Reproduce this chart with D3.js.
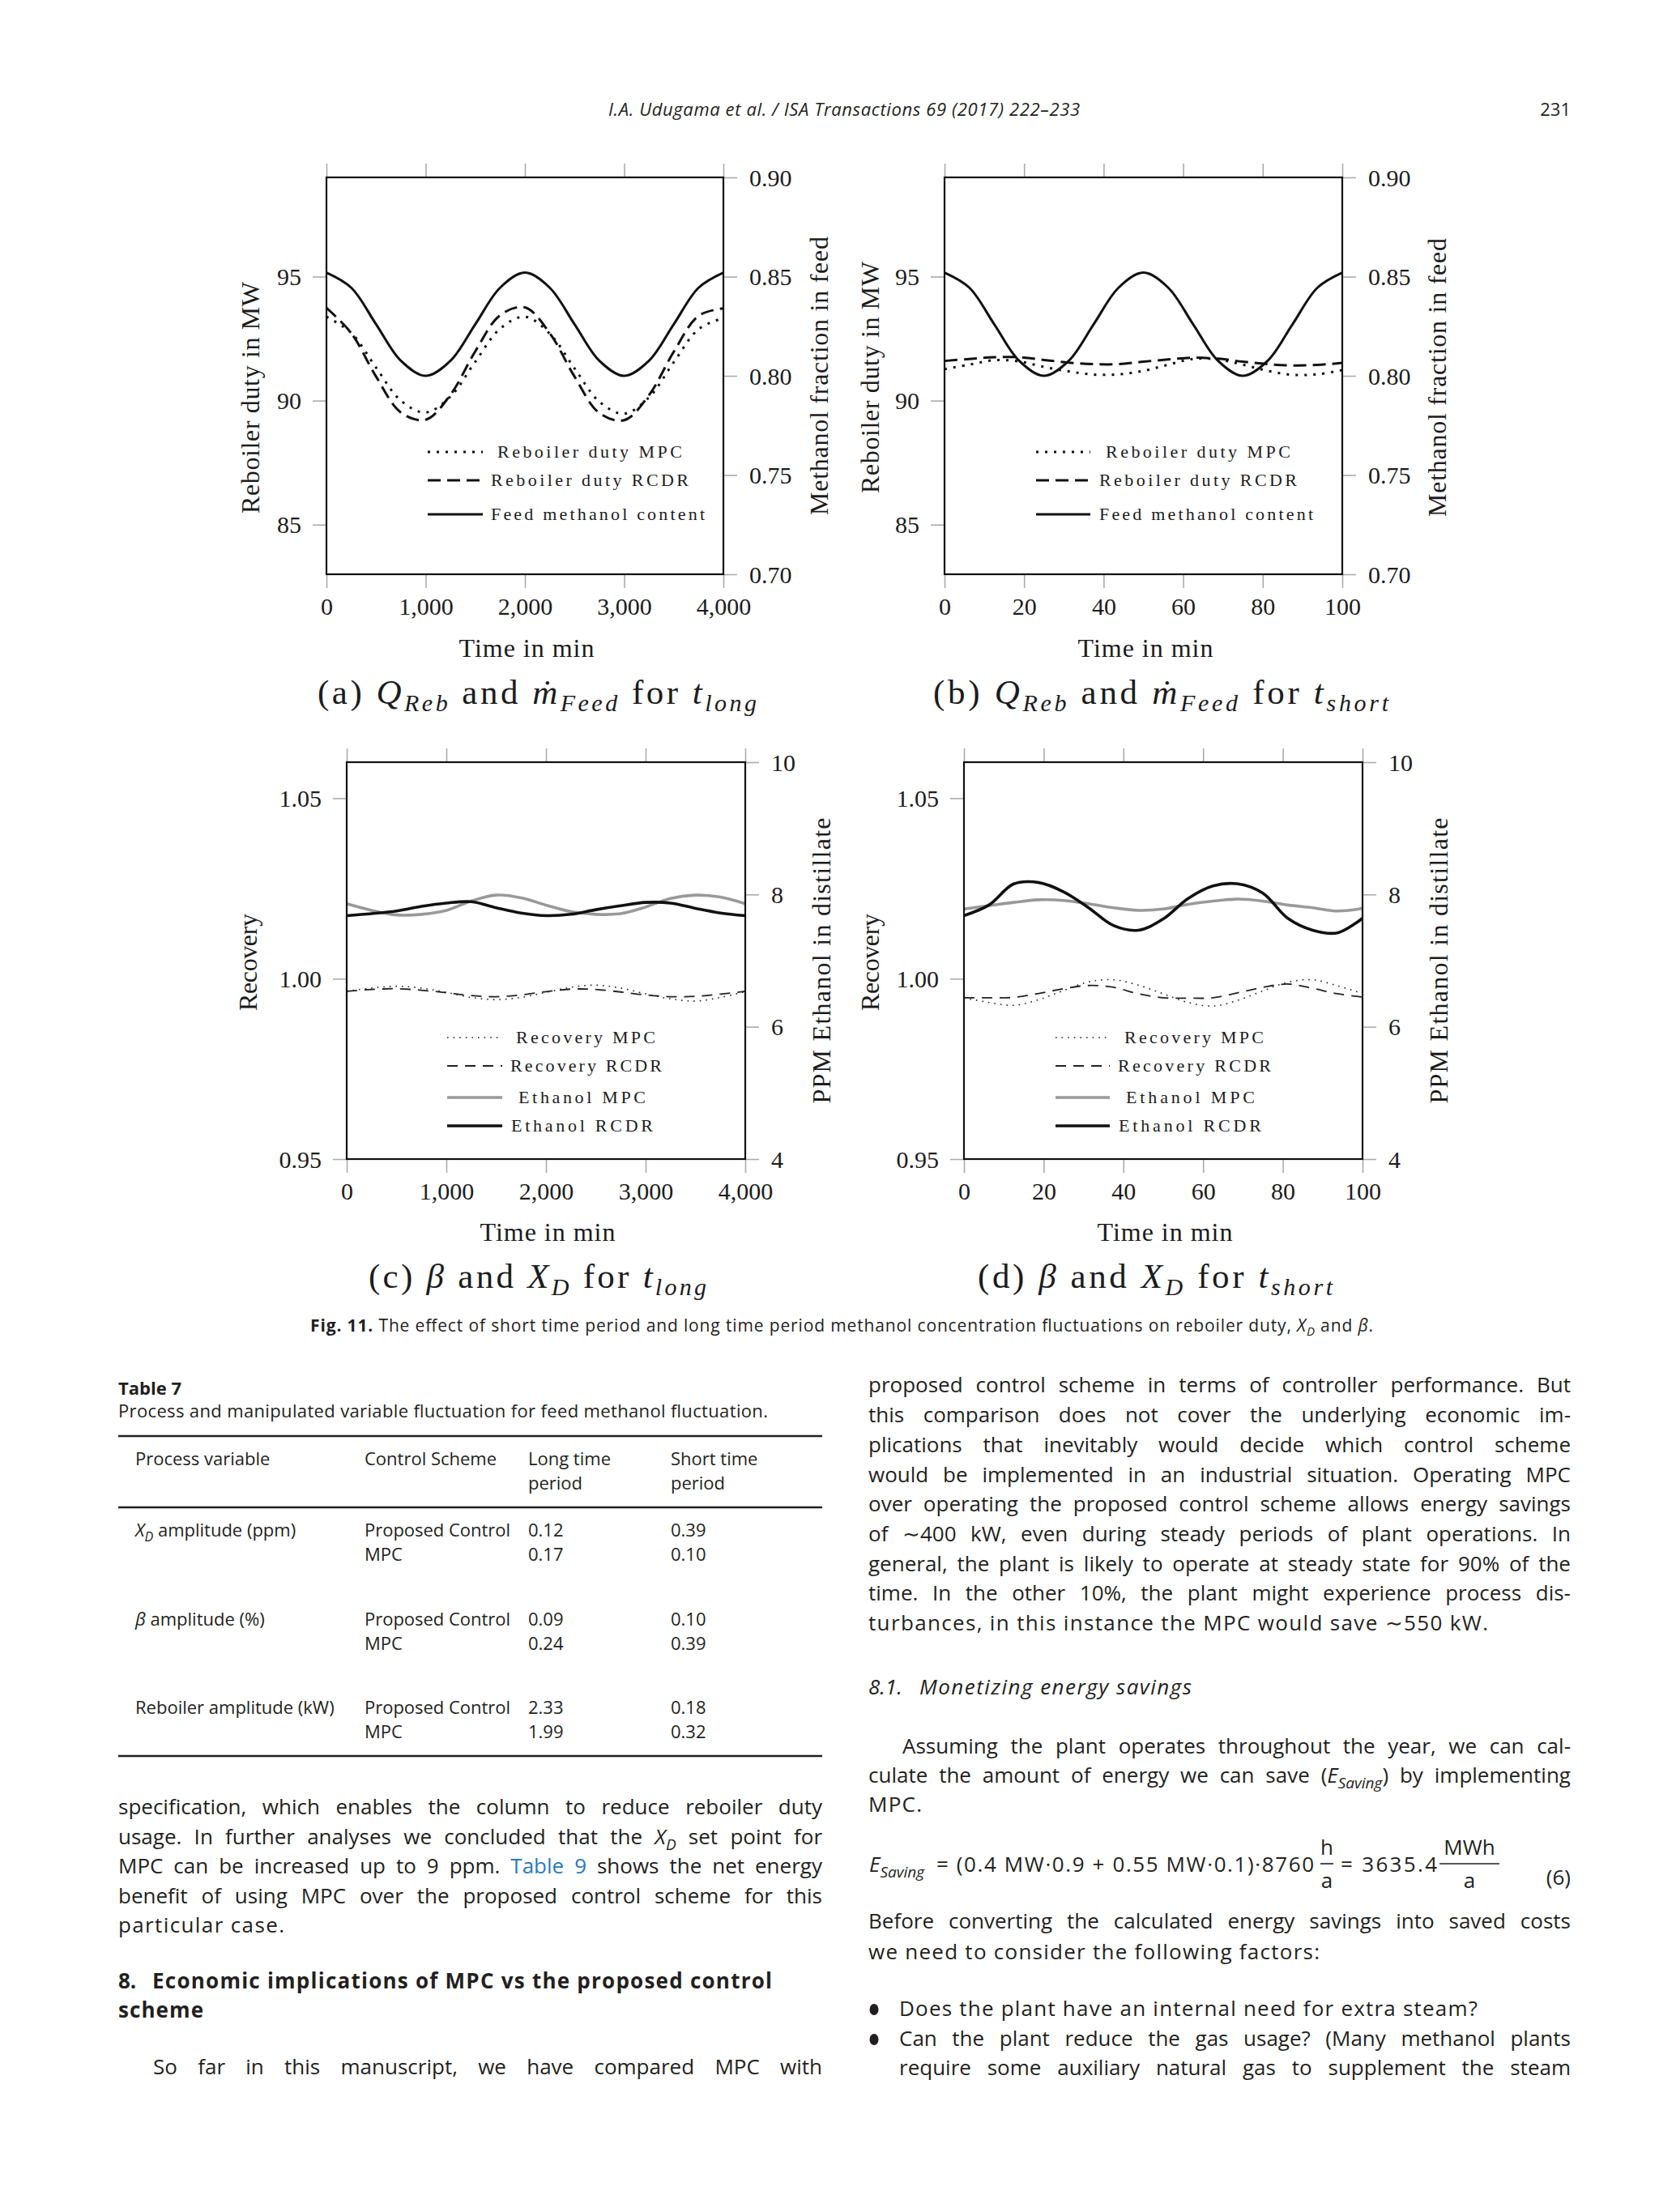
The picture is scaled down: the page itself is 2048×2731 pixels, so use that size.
<!DOCTYPE html>
<html>
<head>
<meta charset="utf-8">
<script src="https://cdn.jsdelivr.net/npm/d3@7"></script>
<style>
  body { margin: 0; background: #fff; }
</style>
</head>
<body>
<div id="page"></div>
<script>
// ---- values ----
const timeLong = [0, 250, 500, 750, 1000, 1250, 1500, 1750, 2000, 2250, 2500, 2750, 3000, 3250, 3500, 3750, 4000];
const timeShort = [0, 6.25, 12.5, 18.75, 25, 31.25, 37.5, 43.75, 50, 56.25, 62.5, 68.75, 75, 81.25, 87.5, 93.75, 100];

// (a) long period: reboiler duty (MW) and feed methanol fraction
const rebMpcLong = [93.38, 92.73, 91.33, 90.00, 89.52, 90.17, 91.57, 92.90, 93.38, 92.70, 91.30, 89.96, 89.47, 90.13, 91.55, 92.88, 93.33];
const rebRcdrLong = [93.74, 92.72, 90.97, 89.52, 89.23, 90.24, 91.99, 93.44, 93.76, 92.72, 90.97, 89.50, 89.21, 90.22, 91.97, 93.42, 93.72];
const feedLong = [0.852, 0.8444, 0.826, 0.8076, 0.800, 0.8076, 0.826, 0.8444, 0.852, 0.8444, 0.826, 0.8076, 0.800, 0.8076, 0.826, 0.8444, 0.852];

// (b) short period
const rebMpcShort = [91.27, 91.45, 91.63, 91.58, 91.36, 91.18, 91.05, 91.06, 91.20, 91.45, 91.68, 91.66, 91.45, 91.20, 91.04, 91.06, 91.23];
const rebRcdrShort = [91.60, 91.68, 91.75, 91.75, 91.64, 91.53, 91.47, 91.47, 91.57, 91.66, 91.73, 91.69, 91.57, 91.47, 91.42, 91.44, 91.52];
const feedShort = [0.852, 0.8444, 0.826, 0.8076, 0.800, 0.8076, 0.826, 0.8444, 0.852, 0.8444, 0.826, 0.8076, 0.800, 0.8076, 0.826, 0.8444, 0.852];

// (c) long period: recovery and ppm ethanol in distillate
const recMpcLong = [0.9965, 0.9974, 0.9979, 0.9974, 0.9962, 0.9948, 0.9942, 0.9948, 0.9962, 0.9976, 0.9982, 0.9974, 0.9958, 0.9944, 0.9938, 0.9948, 0.9964];
const recRcdrLong = [0.9965, 0.9970, 0.9972, 0.9968, 0.9961, 0.9953, 0.9950, 0.9955, 0.9964, 0.9971, 0.9970, 0.9963, 0.9955, 0.9950, 0.9951, 0.9957, 0.9965];
const ethMpcLong = [7.86, 7.76, 7.69, 7.70, 7.76, 7.90, 7.99, 7.95, 7.84, 7.74, 7.70, 7.71, 7.81, 7.94, 7.99, 7.96, 7.86];
const ethRcdrLong = [7.68, 7.71, 7.75, 7.82, 7.87, 7.89, 7.80, 7.72, 7.68, 7.70, 7.77, 7.83, 7.88, 7.87, 7.79, 7.72, 7.68];

// (d) short period
const recMpcShort = [0.9947, 0.9934, 0.9926, 0.9942, 0.9967, 0.9991, 0.9997, 0.9982, 0.9958, 0.9934, 0.9924, 0.9940, 0.9966, 0.9990, 0.9997, 0.9980, 0.9959];
const recRcdrShort = [0.9947, 0.9947, 0.9948, 0.9959, 0.9972, 0.9981, 0.9976, 0.9958, 0.9947, 0.9946, 0.9947, 0.9961, 0.9976, 0.9985, 0.9973, 0.9958, 0.9949];
const ethMpcShort = [7.78, 7.83, 7.88, 7.92, 7.91, 7.86, 7.80, 7.76, 7.78, 7.85, 7.90, 7.93, 7.90, 7.84, 7.80, 7.75, 7.79];
const ethRcdrShort = [7.68, 7.84, 8.16, 8.18, 8.04, 7.80, 7.53, 7.46, 7.63, 7.94, 8.13, 8.16, 8.02, 7.64, 7.46, 7.42, 7.64];

// tick values
const xTicksLong = [0, 1000, 2000, 3000, 4000];
const xTicksShort = [0, 20, 40, 60, 80, 100];
const dutyTicks = [85, 90, 95];
const fracTicks = [0.70, 0.75, 0.80, 0.85, 0.90];
const recTicks = [0.95, 1.00, 1.05];
const ppmTicks = [4, 6, 8, 10];

// Table 7
const tableVars = [
  [{ t: 'X', i: 1 }, { t: 'D', i: 1, sub: 1 }, { t: ' amplitude (ppm)' }],
  [{ t: 'β', i: 1 }, { t: ' amplitude (%)' }],
  [{ t: 'Reboiler amplitude (kW)' }],
];
const tableSchemes = ['Proposed Control', 'MPC'];
const longAmp = [[0.12, 0.17], [0.09, 0.24], [2.33, 1.99]];
const shortAmp = [[0.39, 0.10], [0.10, 0.39], [0.18, 0.32]];

// ---- page ----
const W = 2048, H = 2731;
const CM = '"Liberation Serif", "DejaVu Serif", serif';
const SANS = '"Open Sans", "Noto Sans", sans-serif';
const INK = '#231f20';

const svg = d3.select('#page').append('svg')
  .attr('width', W).attr('height', H).attr('viewBox', `0 0 ${W} ${H}`);
svg.append('rect').attr('width', W).attr('height', H).attr('fill', '#fff');

const styles = {
  dotted: { stroke: '#111', width: 3, dash: '3,8' },
  dashed: { stroke: '#111', width: 3, dash: '16,8' },
  solid: { stroke: '#111', width: 3, dash: null },
  dotThin: { stroke: '#222', width: 1.6, dash: '1.6,6' },
  dashThin: { stroke: '#222', width: 1.8, dash: '13,9' },
  gray: { stroke: '#999', width: 3.6, dash: null },
  black: { stroke: '#111', width: 3.6, dash: null },
};

function applyStroke(sel, st) {
  sel.attr('fill', 'none').attr('stroke', st.stroke).attr('stroke-width', st.width)
    .attr('stroke-dasharray', st.dash).attr('stroke-linejoin', 'round');
  return sel;
}

// text with italic / subscript / bold / coloured pieces
function rich(sel, parts, size, subSize, shift) {
  let cur = 0;
  (typeof parts === 'string' ? [{ t: parts }] : parts).forEach(p => {
    const ts = sel.append('tspan').text(p.t);
    const want = p.sub ? shift : 0;
    if (want !== cur) { ts.attr('dy', want - cur); cur = want; }
    if (p.sub) ts.style('font-size', subSize + 'px');
    if (p.i) ts.style('font-style', 'italic');
    if (p.b) ts.style('font-weight', 'bold');
    if (p.c) ts.attr('fill', p.c);
  });
  return sel;
}

// o.w: target width; o.just: stretch word gaps (justified body line)
function textLine(o) {
  const t = svg.append('text')
    .attr('x', o.x).attr('y', o.y)
    .attr('fill', o.fill || INK)
    .style('font-family', o.font || SANS)
    .style('font-size', o.size + 'px');
  if (o.anchor) t.attr('text-anchor', o.anchor);
  if (o.italic) t.style('font-style', 'italic');
  if (o.bold) t.style('font-weight', 'bold');
  rich(t, o.parts, o.size, Math.round(o.size * 0.72), Math.round(o.size * 0.25));
  if (o.w) {
    const natural = t.node().getComputedTextLength();
    const gaps = (t.text().match(/ /g) || []).length;
    if (o.just && natural < o.w && gaps > 0) {
      t.style('word-spacing', ((o.w - natural) / gaps).toFixed(2) + 'px');
    } else {
      t.attr('textLength', o.w).attr('lengthAdjust', 'spacing');
    }
  }
  return t;
}

function drawPanel(p) {
  const g = svg.append('g').attr('class', 'panel');
  const b = p.box;
  const bottom = b.y + b.h, right = b.x + b.w;
  const x = d3.scaleLinear().domain(p.xDomain).range([b.x, right]);
  const yL = d3.scaleLinear().domain(p.yLDomain).range([bottom, b.y]);
  const yR = d3.scaleLinear().domain(p.yRDomain).range([bottom, b.y]);

  const styleAxis = sel => {
    sel.select('.domain').remove();
    sel.selectAll('.tick line').attr('stroke', '#ababab').attr('stroke-width', 1.6);
    sel.selectAll('.tick text').attr('fill', '#1c1c1c')
      .style('font-family', CM).style('font-size', '30px');
  };

  g.append('g').attr('transform', `translate(0,${bottom})`)
    .call(d3.axisBottom(x).tickValues(p.xTicks).tickFormat(p.xFormat).tickSizeInner(17).tickSizeOuter(0))
    .call(styleAxis)
    .selectAll('.tick text').attr('y', 50).attr('dy', null);
  g.append('g').attr('transform', `translate(0,${b.y})`)
    .call(d3.axisTop(x).tickValues(p.xTicks).tickFormat('').tickSizeInner(17).tickSizeOuter(0))
    .call(styleAxis);
  g.append('g').attr('transform', `translate(${b.x},0)`)
    .call(d3.axisLeft(yL).tickValues(p.yLTicks).tickFormat(p.yLFormat).tickSizeInner(17).tickSizeOuter(0).tickPadding(14))
    .call(styleAxis)
    .selectAll('.tick text').attr('dy', '0.34em');
  g.append('g').attr('transform', `translate(${right},0)`)
    .call(d3.axisRight(yR).tickValues(p.yRTicks).tickFormat(p.yRFormat).tickSizeInner(17).tickSizeOuter(0).tickPadding(15))
    .call(styleAxis)
    .selectAll('.tick text').attr('dy', '0.34em');

  // curves
  p.series.forEach(s => {
    const y = s.axis === 'R' ? yR : yL;
    const line = d3.line()
      .x((d, i) => x(s.t[i]))
      .y(d => y(d))
      .curve(d3.curveCatmullRom.alpha(0.5));
    applyStroke(g.append('path').datum(s.v).attr('d', line), styles[s.style]);
  });

  g.append('rect').attr('x', b.x).attr('y', b.y).attr('width', b.w).attr('height', b.h)
    .attr('fill', 'none').attr('stroke', '#111').attr('stroke-width', 2.2);

  // legend
  p.legend.forEach(e => {
    applyStroke(g.append('line')
      .attr('x1', p.legendX[0]).attr('x2', p.legendX[1])
      .attr('y1', e.y).attr('y2', e.y), styles[e.style]);
    g.append('text').attr('x', e.tx).attr('y', e.y + 7)
      .attr('fill', '#1c1c1c')
      .style('font-family', CM).style('font-size', '22px')
      .attr('textLength', e.len).attr('lengthAdjust', 'spacing')
      .text(e.label);
  });

  // axis titles
  const rot = (lab) => g.append('text')
    .attr('transform', `translate(${lab.cx + 10},${lab.cy}) rotate(-90)`)
    .attr('text-anchor', 'middle').attr('fill', '#1c1c1c')
    .style('font-family', CM).style('font-size', '32px')
    .attr('textLength', lab.len).attr('lengthAdjust', 'spacing')
    .text(lab.text);
  rot(p.leftLabel);
  rot(p.rightLabel);
  g.append('text').attr('x', p.bottomLabel.cx).attr('y', p.bottomLabel.y)
    .attr('text-anchor', 'middle').attr('fill', '#1c1c1c')
    .style('font-family', CM).style('font-size', '32px')
    .attr('textLength', 167).attr('lengthAdjust', 'spacing')
    .text('Time in min');

  // sub-caption
  const cap = g.append('text').attr('x', p.caption.x).attr('y', p.caption.y)
    .attr('fill', '#1c1c1c').style('font-family', CM).style('font-size', '43px');
  rich(cap, p.caption.parts, 43, 30, 9);
  cap.attr('textLength', p.caption.len).attr('lengthAdjust', 'spacing');
}

const fmtComma = d3.format(',');
const fmtInt = d3.format('d');
const fmt2 = d3.format('.2f');

drawPanel({
  box: { x: 403, y: 219, w: 490, h: 490 },
  xDomain: [0, 4000], xTicks: xTicksLong, xFormat: fmtComma,
  yLDomain: [83, 99], yLTicks: dutyTicks, yLFormat: fmtInt,
  yRDomain: [0.70, 0.90], yRTicks: fracTicks, yRFormat: fmt2,
  series: [
    { t: timeLong, v: rebMpcLong, axis: 'L', style: 'dotted' },
    { t: timeLong, v: rebRcdrLong, axis: 'L', style: 'dashed' },
    { t: timeLong, v: feedLong, axis: 'R', style: 'solid' },
  ],
  legendX: [528, 596],
  legend: [
    { label: 'Reboiler duty MPC', style: 'dotted', y: 558, tx: 614, len: 228 },
    { label: 'Reboiler duty RCDR', style: 'dashed', y: 593, tx: 606, len: 244 },
    { label: 'Feed methanol content', style: 'solid', y: 635, tx: 606, len: 264 },
  ],
  leftLabel: { text: 'Reboiler duty in MW', cx: 310, cy: 491, len: 286 },
  rightLabel: { text: 'Methanol fraction in feed', cx: 1012, cy: 464, len: 344 },
  bottomLabel: { cx: 650, y: 811 },
  caption: {
    x: 392, y: 869, len: 542,
    parts: [{ t: '(a) ' }, { t: 'Q', i: 1 }, { t: 'Reb', i: 1, sub: 1 }, { t: ' and ' }, { t: 'ṁ', i: 1 },
      { t: 'Feed', i: 1, sub: 1 }, { t: ' for ' }, { t: 't', i: 1 }, { t: 'long', i: 1, sub: 1 }],
  },
});

drawPanel({
  box: { x: 1166, y: 219, w: 491, h: 490 },
  xDomain: [0, 100], xTicks: xTicksShort, xFormat: fmtInt,
  yLDomain: [83, 99], yLTicks: dutyTicks, yLFormat: fmtInt,
  yRDomain: [0.70, 0.90], yRTicks: fracTicks, yRFormat: fmt2,
  series: [
    { t: timeShort, v: rebMpcShort, axis: 'L', style: 'dotted' },
    { t: timeShort, v: rebRcdrShort, axis: 'L', style: 'dashed' },
    { t: timeShort, v: feedShort, axis: 'R', style: 'solid' },
  ],
  legendX: [1279, 1346],
  legend: [
    { label: 'Reboiler duty MPC', style: 'dotted', y: 558, tx: 1365, len: 228 },
    { label: 'Reboiler duty RCDR', style: 'dashed', y: 593, tx: 1357, len: 244 },
    { label: 'Feed methanol content', style: 'solid', y: 635, tx: 1357, len: 264 },
  ],
  leftLabel: { text: 'Reboiler duty in MW', cx: 1075, cy: 466, len: 286 },
  rightLabel: { text: 'Methanol fraction in feed', cx: 1775, cy: 466, len: 344 },
  bottomLabel: { cx: 1414, y: 811 },
  caption: {
    x: 1152, y: 869, len: 562,
    parts: [{ t: '(b) ' }, { t: 'Q', i: 1 }, { t: 'Reb', i: 1, sub: 1 }, { t: ' and ' }, { t: 'ṁ', i: 1 },
      { t: 'Feed', i: 1, sub: 1 }, { t: ' for ' }, { t: 't', i: 1 }, { t: 'short', i: 1, sub: 1 }],
  },
});

drawPanel({
  box: { x: 428, y: 941, w: 492, h: 490 },
  xDomain: [0, 4000], xTicks: xTicksLong, xFormat: fmtComma,
  yLDomain: [0.95, 1.06], yLTicks: recTicks, yLFormat: fmt2,
  yRDomain: [4, 10], yRTicks: ppmTicks, yRFormat: fmtInt,
  series: [
    { t: timeLong, v: recMpcLong, axis: 'L', style: 'dotThin' },
    { t: timeLong, v: recRcdrLong, axis: 'L', style: 'dashThin' },
    { t: timeLong, v: ethMpcLong, axis: 'R', style: 'gray' },
    { t: timeLong, v: ethRcdrLong, axis: 'R', style: 'black' },
  ],
  legendX: [552, 620],
  legend: [
    { label: 'Recovery MPC', style: 'dotThin', y: 1281, tx: 637, len: 172 },
    { label: 'Recovery RCDR', style: 'dashThin', y: 1316, tx: 630, len: 187 },
    { label: 'Ethanol MPC', style: 'gray', y: 1355, tx: 640, len: 157 },
    { label: 'Ethanol RCDR', style: 'black', y: 1390, tx: 631, len: 175 },
  ],
  leftLabel: { text: 'Recovery', cx: 307, cy: 1188, len: 120 },
  rightLabel: { text: 'PPM Ethanol in distillate', cx: 1015, cy: 1186, len: 353 },
  bottomLabel: { cx: 676, y: 1532 },
  caption: {
    x: 455, y: 1590, len: 417,
    parts: [{ t: '(c) ' }, { t: 'β', i: 1 }, { t: ' and ' }, { t: 'X', i: 1 }, { t: 'D', i: 1, sub: 1 },
      { t: ' for ' }, { t: 't', i: 1 }, { t: 'long', i: 1, sub: 1 }],
  },
});

drawPanel({
  box: { x: 1190, y: 941, w: 492, h: 490 },
  xDomain: [0, 100], xTicks: xTicksShort, xFormat: fmtInt,
  yLDomain: [0.95, 1.06], yLTicks: recTicks, yLFormat: fmt2,
  yRDomain: [4, 10], yRTicks: ppmTicks, yRFormat: fmtInt,
  series: [
    { t: timeShort, v: recMpcShort, axis: 'L', style: 'dotThin' },
    { t: timeShort, v: recRcdrShort, axis: 'L', style: 'dashThin' },
    { t: timeShort, v: ethMpcShort, axis: 'R', style: 'gray' },
    { t: timeShort, v: ethRcdrShort, axis: 'R', style: 'black' },
  ],
  legendX: [1303, 1370],
  legend: [
    { label: 'Recovery MPC', style: 'dotThin', y: 1281, tx: 1388, len: 172 },
    { label: 'Recovery RCDR', style: 'dashThin', y: 1316, tx: 1380, len: 189 },
    { label: 'Ethanol MPC', style: 'gray', y: 1355, tx: 1390, len: 159 },
    { label: 'Ethanol RCDR', style: 'black', y: 1390, tx: 1381, len: 176 },
  ],
  leftLabel: { text: 'Recovery', cx: 1075, cy: 1188, len: 120 },
  rightLabel: { text: 'PPM Ethanol in distillate', cx: 1777, cy: 1186, len: 353 },
  bottomLabel: { cx: 1438, y: 1532 },
  caption: {
    x: 1207, y: 1590, len: 438,
    parts: [{ t: '(d) ' }, { t: 'β', i: 1 }, { t: ' and ' }, { t: 'X', i: 1 }, { t: 'D', i: 1, sub: 1 },
      { t: ' for ' }, { t: 't', i: 1 }, { t: 'short', i: 1, sub: 1 }],
  },
});

// ---- running head ----
textLine({ x: 751, y: 143, size: 22, italic: true, w: 582,
  parts: 'I.A. Udugama et al. / ISA Transactions 69 (2017) 222–233' });
textLine({ x: 1939, y: 143, size: 22, anchor: 'end', parts: '231' });

// ---- figure caption ----
textLine({ x: 383, y: 1644, size: 21, w: 1312, parts: [
  { t: 'Fig. 11.', b: 1 },
  { t: ' The effect of short time period and long time period methanol concentration fluctuations on reboiler duty, ' },
  { t: 'X', i: 1 }, { t: 'D', i: 1, sub: 1 }, { t: ' and ' }, { t: 'β', i: 1 }, { t: '.' }] });

// ---- Table 7 ----
const TS = 22;
textLine({ x: 146, y: 1722, size: TS, bold: true, parts: 'Table 7' });
textLine({ x: 146, y: 1750, size: TS, w: 802,
  parts: 'Process and manipulated variable fluctuation for feed methanol fluctuation.' });
[1773, 1861, 2168].forEach(y => {
  svg.append('line').attr('x1', 146).attr('x2', 1015).attr('y1', y).attr('y2', y)
    .attr('stroke', INK).attr('stroke-width', 2.6);
});
const colX = [167, 450, 652, 828];
textLine({ x: colX[0], y: 1809, size: TS, parts: 'Process variable' });
textLine({ x: colX[1], y: 1809, size: TS, parts: 'Control Scheme' });
textLine({ x: colX[2], y: 1809, size: TS, parts: 'Long time' });
textLine({ x: colX[2], y: 1839, size: TS, parts: 'period' });
textLine({ x: colX[3], y: 1809, size: TS, parts: 'Short time' });
textLine({ x: colX[3], y: 1839, size: TS, parts: 'period' });
const rowY = [1897, 2007, 2116];
tableVars.forEach((v, r) => {
  textLine({ x: colX[0], y: rowY[r], size: TS, parts: v });
  tableSchemes.forEach((s, k) => {
    const y = rowY[r] + k * 30;
    textLine({ x: colX[1], y, size: TS, w: k === 0 ? 180 : null, parts: s });
    textLine({ x: colX[2], y, size: TS, parts: fmt2(longAmp[r][k]) });
    textLine({ x: colX[3], y, size: TS, parts: fmt2(shortAmp[r][k]) });
  });
});

// ---- left column body ----
const BS = 26;
const leftLines = [
  { y: 2240, parts: 'specification, which enables the column to reduce reboiler duty' },
  { y: 2276.5, parts: [{ t: 'usage. In further analyses we concluded that the ' }, { t: 'X', i: 1 }, { t: 'D', i: 1, sub: 1 }, { t: ' set point for' }] },
  { y: 2313, parts: [{ t: 'MPC can be increased up to 9 ppm. ' }, { t: 'Table 9', c: '#2a7bb5' }, { t: ' shows the net energy' }] },
  { y: 2349.5, parts: 'benefit of using MPC over the proposed control scheme for this' },
  { y: 2386, w: 205, parts: 'particular case.' },
  { y: 2561, x: 189, w: 826, parts: 'So far in this manuscript, we have compared MPC with' },
];
leftLines.forEach(l => textLine({ x: l.x || 146, y: l.y, size: BS, w: l.w || 869, just: !l.w || l.x, parts: l.parts }));
textLine({ x: 146, y: 2455, size: 26, bold: true, parts: '8.' });
textLine({ x: 188, y: 2455, size: 26, bold: true, w: 765, parts: 'Economic implications of MPC vs the proposed control' });
textLine({ x: 146, y: 2491, size: 26, bold: true, w: 105, parts: 'scheme' });

// ---- right column body ----
const rightLines = [
  { y: 1719, parts: 'proposed control scheme in terms of controller performance. But' },
  { y: 1756, parts: 'this comparison does not cover the underlying economic im-' },
  { y: 1793, parts: 'plications that inevitably would decide which control scheme' },
  { y: 1829.5, parts: 'would be implemented in an industrial situation. Operating MPC' },
  { y: 1866, parts: 'over operating the proposed control scheme allows energy savings' },
  { y: 1903, parts: 'of ∼400 kW, even during steady periods of plant operations. In' },
  { y: 1939.5, parts: 'general, the plant is likely to operate at steady state for 90% of the' },
  { y: 1976, parts: 'time. In the other 10%, the plant might experience process dis-' },
  { y: 2013, w: 765, parts: 'turbances, in this instance the MPC would save ∼550 kW.' },
  { y: 2165, x: 1114, w: 825, just: true, parts: 'Assuming the plant operates throughout the year, we can cal-' },
  { y: 2201, parts: [{ t: 'culate the amount of energy we can save (' }, { t: 'E', i: 1 }, { t: 'Saving', i: 1, sub: 1 }, { t: ') by implementing' }] },
  { y: 2237, w: 66, parts: 'MPC.' },
  { y: 2381, parts: 'Before converting the calculated energy savings into saved costs' },
  { y: 2419, w: 557, parts: 'we need to consider the following factors:' },
  { y: 2489, x: 1110, w: 714, parts: 'Does the plant have an internal need for extra steam?' },
  { y: 2526, x: 1110, w: 829, just: true, parts: 'Can the plant reduce the gas usage? (Many methanol plants' },
  { y: 2562, x: 1110, w: 829, just: true, parts: 'require some auxiliary natural gas to supplement the steam' },
];
rightLines.forEach(l => textLine({ x: l.x || 1072, y: l.y, size: BS, w: l.w || 867, just: l.just || !l.w, parts: l.parts }));
[2481, 2518].forEach(cy => svg.append('ellipse').attr('cx', 1079).attr('cy', cy)
  .attr('rx', 5.5).attr('ry', 7).attr('fill', INK));
textLine({ x: 1072, y: 2092, size: BS, italic: true, parts: '8.1.' });
textLine({ x: 1135, y: 2092, size: BS, italic: true, w: 336, parts: 'Monetizing energy savings' });

// ---- equation (6) ----
textLine({ x: 1073, y: 2311, size: 26, parts: [{ t: 'E', i: 1 }, { t: 'Saving', i: 1, sub: 1 }] });
textLine({ x: 1156, y: 2311, size: 26, w: 466, parts: '= (0.4 MW·0.9 + 0.55 MW·0.1)·8760' });
textLine({ x: 1638, y: 2290, size: 26, anchor: 'middle', parts: 'h' });
textLine({ x: 1638, y: 2331, size: 26, anchor: 'middle', parts: 'a' });
textLine({ x: 1655, y: 2311, size: 26, w: 119, parts: '= 3635.4' });
textLine({ x: 1814, y: 2290, size: 26, anchor: 'middle', parts: 'MWh' });
textLine({ x: 1814, y: 2331, size: 26, anchor: 'middle', parts: 'a' });
[[1630, 1646], [1777, 1851]].forEach(([a, b]) => svg.append('line')
  .attr('x1', a).attr('x2', b).attr('y1', 2301).attr('y2', 2301)
  .attr('stroke', INK).attr('stroke-width', 1.6));
textLine({ x: 1939, y: 2327, size: 26, anchor: 'end', parts: '(6)' });
</script>
</body>
</html>
